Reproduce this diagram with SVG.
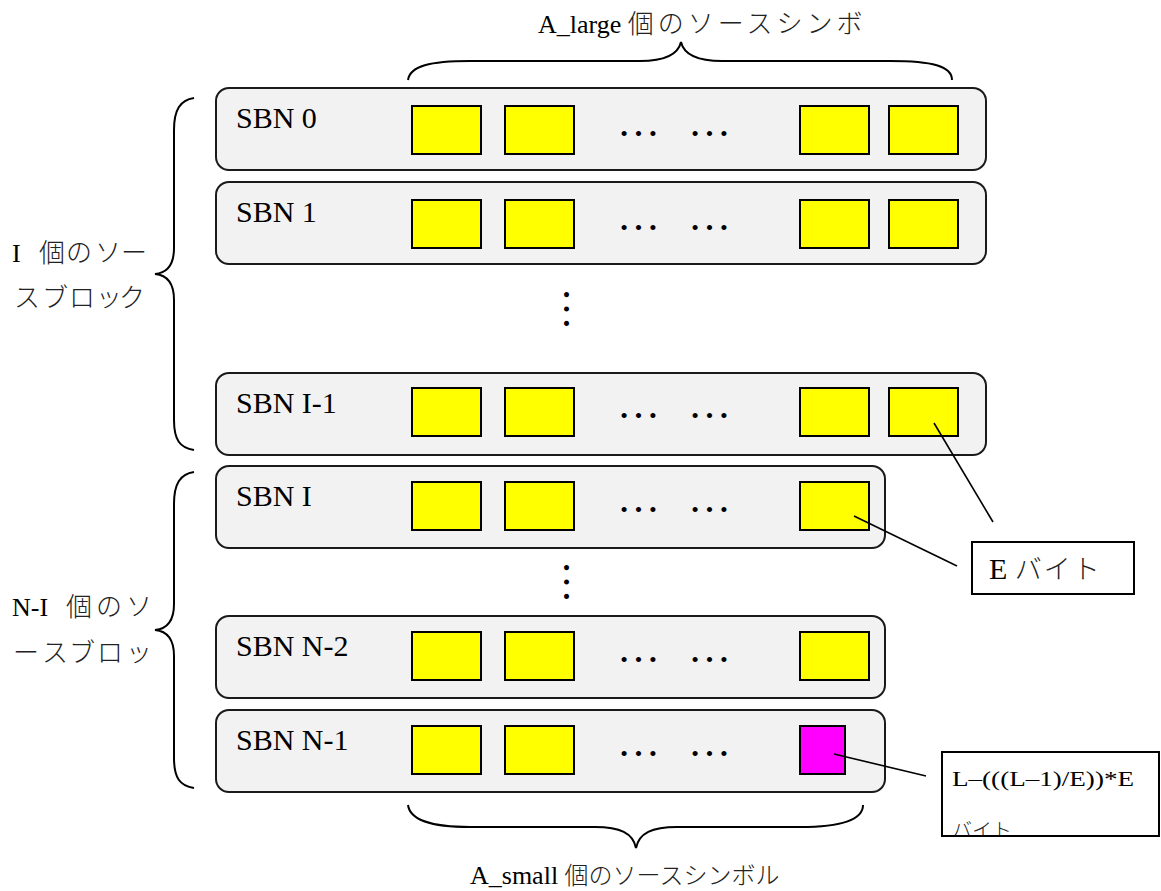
<svg xmlns="http://www.w3.org/2000/svg" width="1161" height="891" viewBox="0 0 1161 891">
<style>
.row{fill:#f2f2f2;stroke:#1a1a1a;stroke-width:2}
.sym{fill:#ffff00;stroke:#000;stroke-width:2}
.last{fill:#ff00ff;stroke:#000;stroke-width:2}
.lbl{font-family:"Liberation Serif","Noto Sans CJK JP",serif;font-size:30px;fill:#000}
.jp{font-family:"Liberation Serif","Noto Sans CJK JP",serif;font-size:26px;fill:#000}
.cjk{font-weight:300;fill:#222}
.dots{font-family:"Liberation Serif",serif;font-size:43px;fill:#000}
.brace{fill:none;stroke:#000;stroke-width:2}
.conn{fill:none;stroke:#000;stroke-width:1.6}
.box{fill:#fff;stroke:#000;stroke-width:2}
</style>
<defs>
<clipPath id="fclip"><rect x="942" y="752" width="218" height="84"/></clipPath>
</defs>

<g id="brace-top">
<path class="brace" d="M408,80 C410,66 430,61 470,61 L640,61 C665,61 678,55 681,42 C684,55 697,61 722,61 L890,61 C932,61 952,66 952,80"/>
<text class="jp" x="538" y="33" font-size="27">A_large <tspan class="cjk" letter-spacing="4">個のソースシンボ</tspan></text>
</g>

<g id="brace-bottom">
<path class="brace" d="M408,805 C410,820 430,827 470,827 L595,827 C620,827 633,833 636,848 C639,833 652,827 677,827 L800,827 C842,827 863,820 863,805"/>
<text class="jp" x="470" y="884">A_small <tspan class="cjk" font-size="24">個のソースシンボル</tspan></text>
</g>

<g id="brace-I">
<path class="brace" d="M194,98 C180,100 174,110 174,130 L174,248 C174,266 166,273 155,274 C166,275 174,282 174,300 L174,420 C174,440 180,448 194,450"/>
<text class="jp" x="12" y="262">I</text>
<text class="jp cjk" x="39 66 95 121" y="262">個のソー</text>
<text class="jp cjk" x="14 42 69 96 119" y="307">スブロック</text>
</g>

<g id="brace-NI">
<path class="brace" d="M194,472 C180,474 174,484 174,504 L174,604 C174,622 166,629 155,630 C166,631 174,638 174,656 L174,758 C174,778 180,786 194,788"/>
<text class="jp" x="12" y="616">N-I</text>
<text class="jp cjk" x="66 96 126" y="616">個のソ</text>
<text class="jp cjk" x="13 42 69 97 126" y="662">ースブロッ</text>
</g>

<g id="sbn0">
<rect class="row" x="216" y="88" width="770" height="82" rx="13"/>
<text class="lbl" x="236" y="128">SBN 0</text>
<rect class="sym" x="412" y="106" width="69" height="48"/>
<rect class="sym" x="505" y="106" width="69" height="48"/>
<text class="dots" x="617" y="136">…</text>
<text class="dots" x="688" y="136">…</text>
<rect class="sym" x="800" y="106" width="69" height="48"/>
<rect class="sym" x="889" y="106" width="69" height="48"/>
</g>

<g id="sbn1">
<rect class="row" x="216" y="182" width="770" height="82" rx="13"/>
<text class="lbl" x="236" y="222">SBN 1</text>
<rect class="sym" x="412" y="200" width="69" height="48"/>
<rect class="sym" x="505" y="200" width="69" height="48"/>
<text class="dots" x="617" y="230">…</text>
<text class="dots" x="688" y="230">…</text>
<rect class="sym" x="800" y="200" width="69" height="48"/>
<rect class="sym" x="889" y="200" width="69" height="48"/>
</g>

<g id="vdots1">
<text class="dots" transform="translate(566,309) rotate(90)" x="0" y="2" text-anchor="middle">…</text>
</g>

<g id="sbnI-1">
<rect class="row" x="216" y="373" width="770" height="82" rx="13"/>
<text class="lbl" x="236" y="413">SBN I-1</text>
<rect class="sym" x="412" y="388" width="69" height="48"/>
<rect class="sym" x="505" y="388" width="69" height="48"/>
<text class="dots" x="617" y="418">…</text>
<text class="dots" x="688" y="418">…</text>
<rect class="sym" x="800" y="388" width="69" height="48"/>
<rect class="sym" x="889" y="388" width="69" height="48"/>
</g>

<g id="sbnI">
<rect class="row" x="216" y="466" width="669" height="82" rx="13"/>
<text class="lbl" x="236" y="506">SBN I</text>
<rect class="sym" x="412" y="482" width="69" height="48"/>
<rect class="sym" x="505" y="482" width="69" height="48"/>
<text class="dots" x="617" y="512">…</text>
<text class="dots" x="688" y="512">…</text>
<rect class="sym" x="800" y="482" width="69" height="48"/>
</g>

<g id="vdots2">
<text class="dots" transform="translate(566,582) rotate(90)" x="0" y="2" text-anchor="middle">…</text>
</g>

<g id="sbnN-2">
<rect class="row" x="216" y="616" width="669" height="82" rx="13"/>
<text class="lbl" x="236" y="656">SBN N-2</text>
<rect class="sym" x="412" y="632" width="69" height="48"/>
<rect class="sym" x="505" y="632" width="69" height="48"/>
<text class="dots" x="617" y="662">…</text>
<text class="dots" x="688" y="662">…</text>
<rect class="sym" x="800" y="632" width="69" height="48"/>
</g>

<g id="sbnN-1">
<rect class="row" x="216" y="710" width="669" height="82" rx="13"/>
<text class="lbl" x="236" y="750">SBN N-1</text>
<rect class="sym" x="412" y="726" width="69" height="48"/>
<rect class="sym" x="505" y="726" width="69" height="48"/>
<text class="dots" x="617" y="756">…</text>
<text class="dots" x="688" y="756">…</text>
<rect class="last" x="800" y="726" width="45" height="48"/>
</g>

<g id="connectors">
<line class="conn" x1="934" y1="423" x2="993" y2="522"/>
<line class="conn" x1="854" y1="516" x2="957" y2="566"/>
<line class="conn" x1="834" y1="754" x2="926" y2="776"/>
</g>

<g id="ebyte">
<rect class="box" x="972" y="542" width="162" height="52"/>
<text class="lbl" x="989" y="579">E <tspan class="cjk" font-size="27" letter-spacing="2">バイト</tspan></text>
</g>

<g id="formula">
<rect class="box" x="942" y="752" width="217" height="84"/>
<g clip-path="url(#fclip)">
<text font-family="Liberation Serif, Noto Sans CJK JP, serif" font-size="20" x="952" y="786" textLength="182" lengthAdjust="spacingAndGlyphs">L–(((L–1)/E))*E</text>
<text class="cjk" font-family="Liberation Serif, Noto Sans CJK JP, serif" font-size="20" x="952" y="838">バイト</text>
</g>
<rect x="942" y="752" width="217" height="84" fill="none" stroke="#000" stroke-width="2"/>
</g>
</svg>
